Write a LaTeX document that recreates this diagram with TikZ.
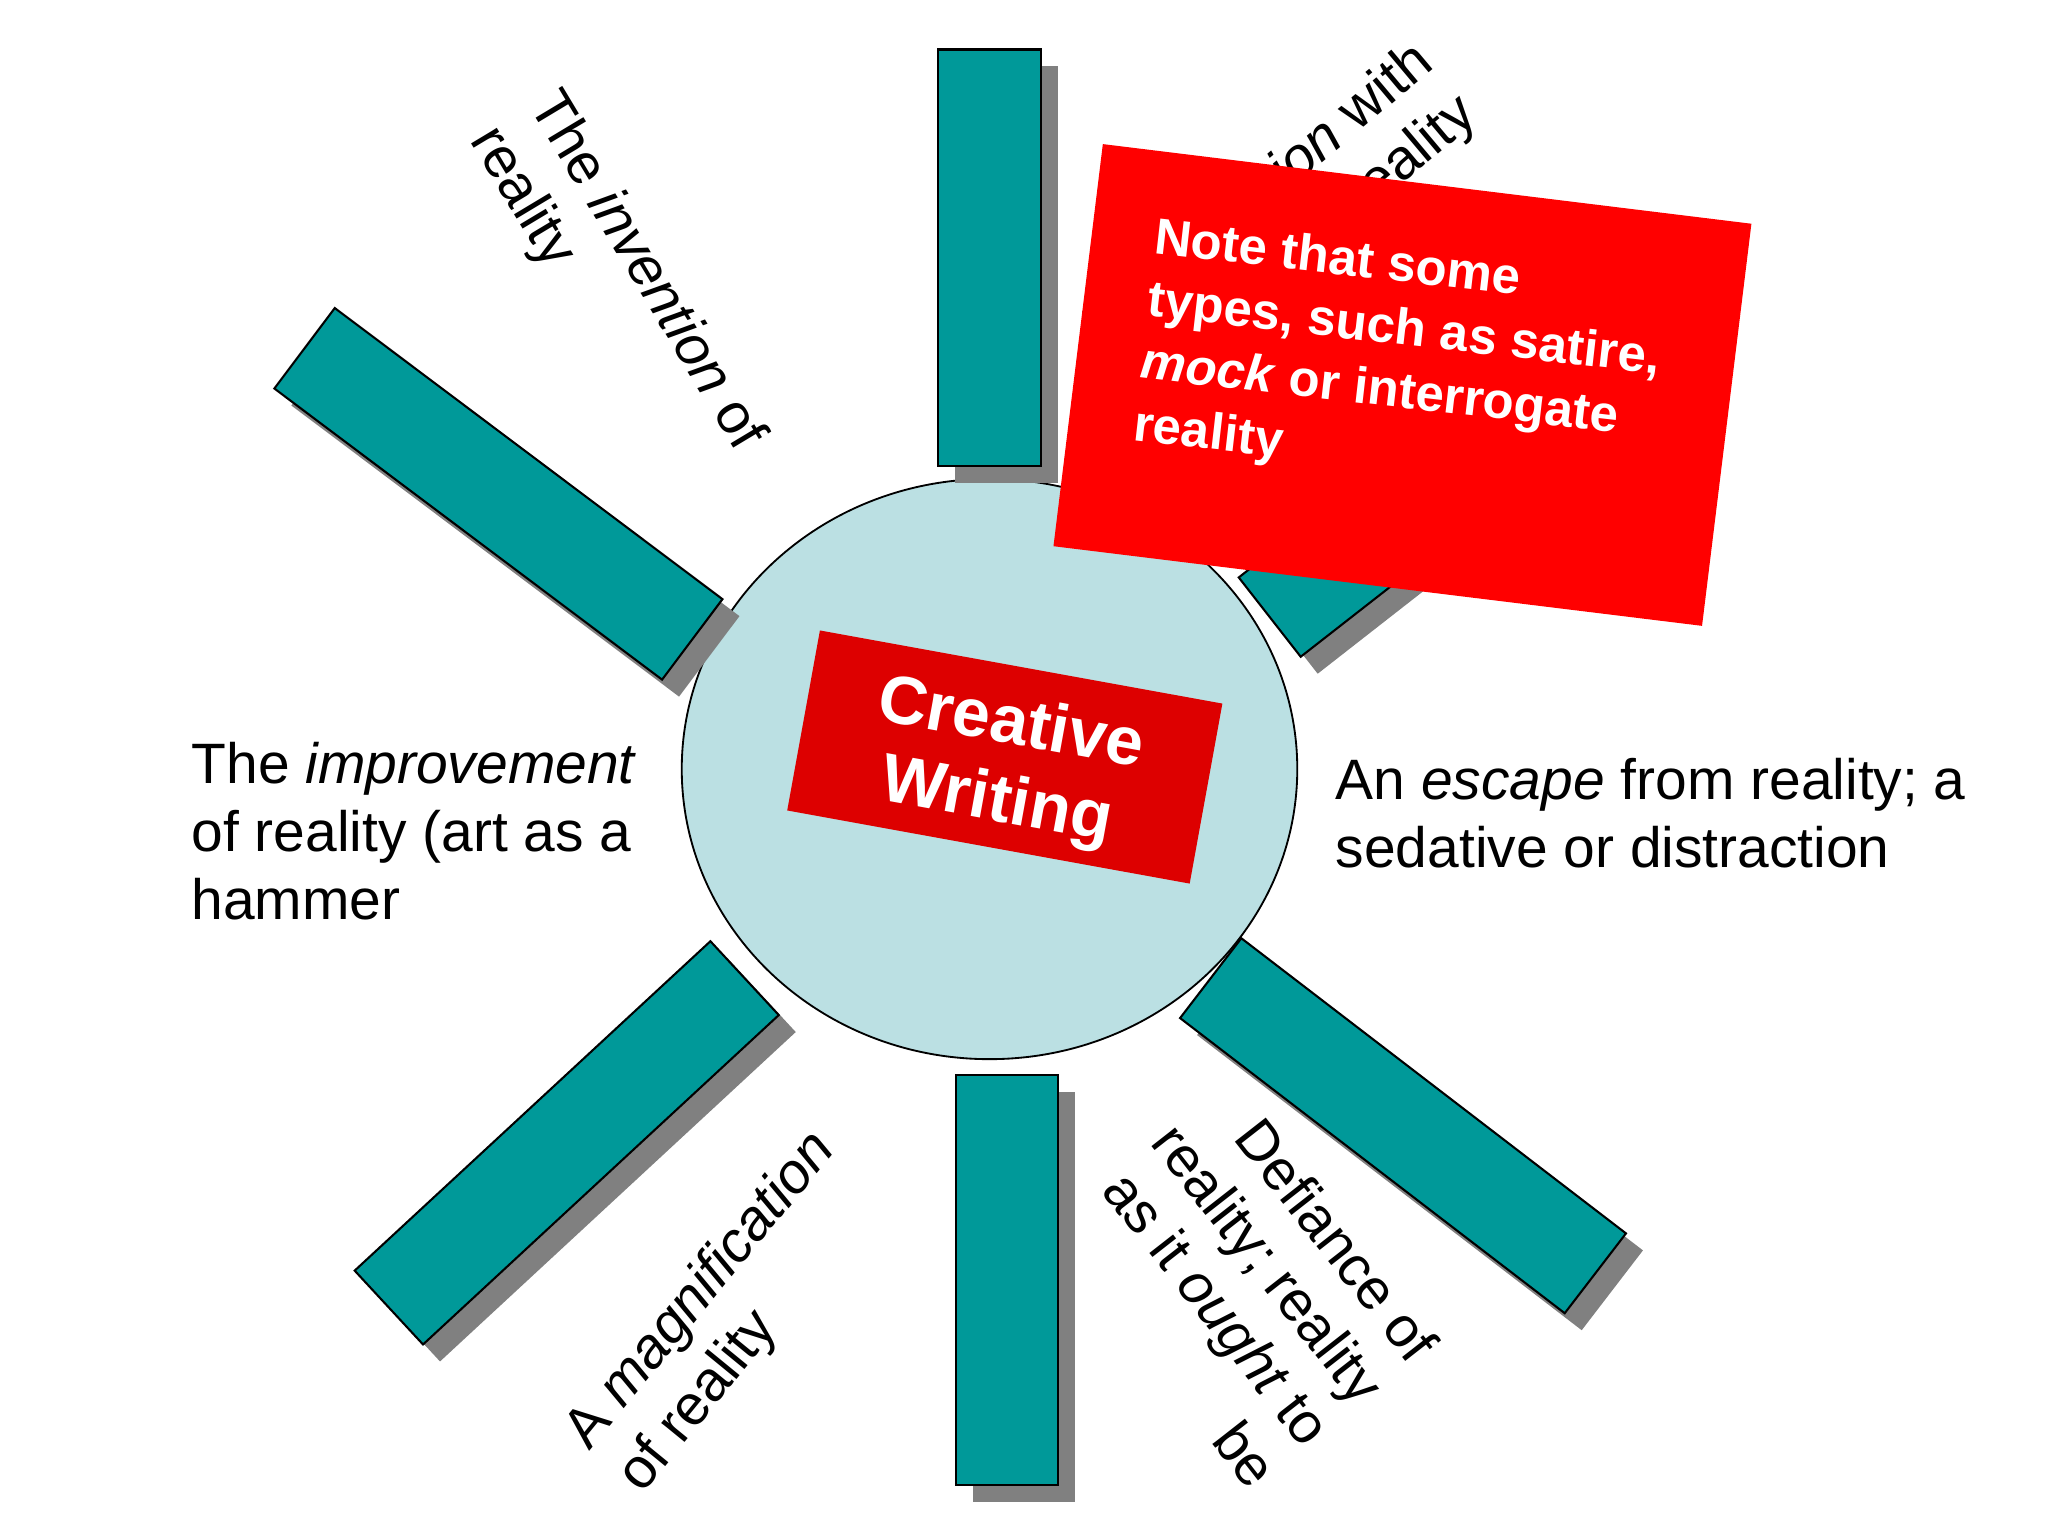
\documentclass[tikz,border=0pt]{standalone}
\usepackage{fontspec}
\setmainfont{Liberation Sans}
\usetikzlibrary{shapes.geometric}
\definecolor{barteal}{RGB}{0,153,153}
\definecolor{shadegray}{RGB}{128,128,128}
\definecolor{hubblue}{RGB}{187,224,227}
\definecolor{notered}{RGB}{255,0,0}
\definecolor{titlered}{RGB}{221,0,0}
\tikzset{
  hub/.style={ellipse, draw=black, line width=0.4pt, fill=hubblue, inner sep=0pt,
    minimum width=4.71cm, minimum height=4.44cm},
  bar/.style={draw=black, fill=barteal, line width=0.45pt, inner sep=0pt},
  barshade/.style={fill=shadegray, inner sep=0pt},
  spoke/.style={minimum width=3.71cm, minimum height=0.77cm},
  spoketext/.style={font=\fontsize{12.4}{14.8}\selectfont, align=left, inner sep=0pt},
  titlebox/.style={fill=titlered, inner sep=0pt, minimum width=3.13cm, minimum height=1.40cm},
  notebox/.style={fill=notered, inner sep=0pt, minimum width=5.0cm, minimum height=3.1cm}
}
\begin{document}
\begin{tikzpicture}[x=0.01cm, y=-0.01cm]
  \useasboundingbox (0,0) rectangle (1568,1176);
  \node[hub] (hub) at (757.6,588.8) {};
  % spokes, each with its shadow
  \node[barshade, minimum width=0.79cm, minimum height=3.19cm] (topsh) at (770.5,210.5) {};
  \node[bar, minimum width=0.79cm, minimum height=3.19cm] (top) at (757.5,197.5) {};
  \node[barshade, minimum width=0.78cm, minimum height=3.14cm] (bottomsh) at (784,993) {};
  \node[bar, minimum width=0.78cm, minimum height=3.14cm] (bottom) at (771,980) {};
  \node[barshade, spoke, rotate=-36.9] (tlsh) at (394.6,391.1) {};
  \node[bar, spoke, rotate=-36.9] (tl) at (381.6,378.1) {};
  \node[barshade, spoke, rotate=38] (trsh) at (1131.4,371.2) {};
  \node[bar, spoke, rotate=38] (tr) at (1118.4,358.2) {};
  \node[barshade, spoke, rotate=42.8] (blsh) at (446.9,888) {};
  \node[bar, spoke, rotate=42.8] (bl) at (433.9,875) {};
  \node[barshade, spoke, rotate=-37.5] (brsh) at (1087.2,874.9) {};
  \node[bar, spoke, rotate=-37.5] (br) at (1074.2,861.9) {};
  % centre
  \node[titlebox, rotate=-10.3] (titlebg) at (769.3,579.6) {};
  \node[font=\bfseries\fontsize{14.8}{17.1}\selectfont, text=white, align=center,
    inner sep=0pt, rotate=-10.3] (title) at (768.4,585.5) {Creative\\Writing};
  % labels (base = last line)
  \node[spoketext, rotate=-59, anchor=base west] (invent) at (359.4,107) {The \textit{invention} of\\reality};
  \node[spoketext, anchor=base west] (improve) at (146,704) {The \textit{improvement}\\of reality (art as a\\hammer};
  \node[spoketext, anchor=base west] (escape) at (1022,664) {An \textit{escape} from reality; a\\sedative or distraction};
  \node[spoketext, rotate=50.7, anchor=base west] (magnify) at (491.2,1144.9) {A \textit{magnification}\\of reality};
  \node[spoketext, rotate=-52, align=right] (defy) at (951,983) {Defiance of\\reality; reality\\as it \textit{ought} to\\be};
  \node[spoketext, rotate=40, align=right, anchor=base east] (fascin) at (1133,91) {A \textit{fascination} with\\everyday reality};
  % the note on top
  \node[notebox, rotate=-7] (note) at (1073.75,294.75) {};
  \node[font=\bfseries\fontsize{11.1}{13.66}\selectfont, text=white, align=left,
    inner sep=0pt, rotate=-6.5, anchor=base west] (notetext) at (866,337)
    {Note that some\\types, such as satire,\\\textit{mock} or interrogate\\reality};
\end{tikzpicture}
\end{document}
